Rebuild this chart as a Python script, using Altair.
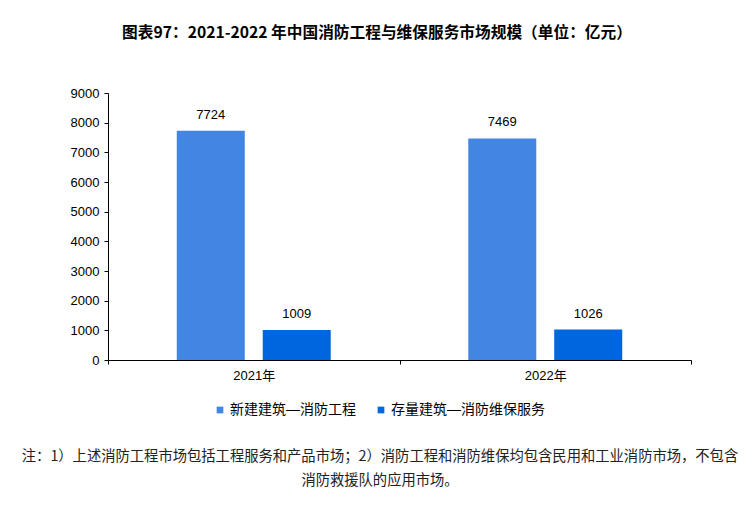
import altair as alt
import pandas as pd

years = ["2021年", "2022年"]
series = ["新建建筑—消防工程", "存量建筑—消防维保服务"]
new_build = [7724, 7469]
maintenance = [1009, 1026]
colors = ["#4285E3", "#0066E0"]
y_ticks = [0, 1000, 2000, 3000, 4000, 5000, 6000, 7000, 8000, 9000]

title_text = ["图表97：2021-2022 年中国消防工程与维保服务市场规模（单位：亿元）"]
note_line1 = ["注：1）上述消防工程市场包括工程服务和产品市场；2）消防工程和消防维保均包含民用和工业消防市场，不包含"]
note_line2 = ["消防救援队的应用市场。"]

rows = []
for i, yr in enumerate(years):
    rows.append({"year": yr, "series": series[0], "value": new_build[i]})
    rows.append({"year": yr, "series": series[1], "value": maintenance[i]})
df = pd.DataFrame(rows)

FONT = "Liberation Sans, Noto Sans CJK SC"

x_enc = alt.X(
    "year:N", sort=years,
    scale=alt.Scale(paddingInner=0, paddingOuter=0),
    axis=alt.Axis(title=None, labelAngle=0, tickBand="extent", tickSize=4,
                  domainColor="#000000", tickColor="#000000", labelPadding=5,
                  labelFont=FONT, labelFontSize=13, labelColor="#000000"),
)
xo_enc = alt.XOffset("series:N", sort=series,
                     scale=alt.Scale(paddingInner=0.209, paddingOuter=0.80))
y_enc = alt.Y(
    "value:Q",
    scale=alt.Scale(domain=[0, 9000], nice=False),
    axis=alt.Axis(title=None, values=y_ticks, grid=False, tickSize=4, format="d",
                  domainColor="#000000", tickColor="#000000", labelPadding=5,
                  labelFont=FONT, labelFontSize=13, labelColor="#000000"),
)

base = alt.Chart(df)
bars = base.mark_bar().encode(
    x=x_enc, xOffset=xo_enc, y=y_enc,
    color=alt.Color(
        "series:N", sort=series,
        scale=alt.Scale(domain=series, range=colors),
        legend=alt.Legend(title=None, orient="none", direction="horizontal",
                          legendX=105, legendY=310, symbolType="square",
                          symbolSize=45, symbolStrokeWidth=0, labelFont=FONT,
                          labelFontSize=14, labelColor="#000000",
                          columnPadding=18, labelOffset=3),
    ),
)
labels = base.mark_text(baseline="bottom", dy=-9, fontSize=13, font=FONT,
                        color="#000000").encode(
    x=x_enc, xOffset=xo_enc, y=y_enc, text="value:Q"
)

title = alt.Chart(pd.DataFrame({"t": title_text})).mark_text(
    font="Noto Sans CJK SC", fontWeight="bold", fontSize=15.7, color="#000000"
).encode(x=alt.value(377 - 108), y=alt.value(33 - 93), text="t:N")

note1 = alt.Chart(pd.DataFrame({"t": note_line1})).mark_text(
    font="Noto Sans CJK SC", fontSize=14.3, color="#222222"
).encode(x=alt.value(380 - 108), y=alt.value(457 - 93), text="t:N")

note2 = alt.Chart(pd.DataFrame({"t": note_line2})).mark_text(
    font="Noto Sans CJK SC", fontSize=14.3, color="#222222"
).encode(x=alt.value(380 - 108), y=alt.value(481 - 93), text="t:N")

chart = alt.layer(bars, labels, title, note1, note2).properties(
    width=583, height=267,
    autosize=alt.AutoSizeParams(type="none"),
    padding={"left": 108, "top": 93, "right": 58, "bottom": 152},
    background="#ffffff",
).configure_view(stroke=None)

chart.save("out.html", embed_options={"renderer": "svg", "actions": False})
